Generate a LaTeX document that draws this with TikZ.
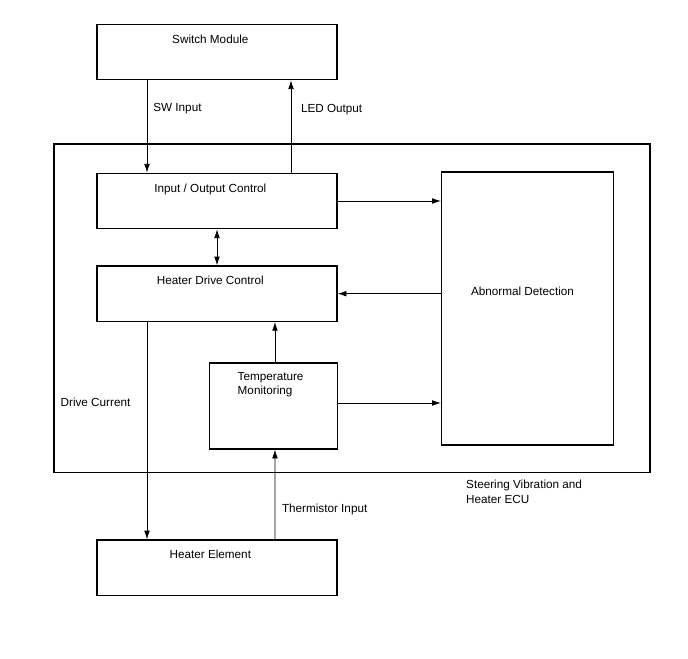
\documentclass[tikz,border=0pt]{standalone}
\usepackage{fontspec}
\setmainfont{Liberation Sans}
\usetikzlibrary{arrows.meta,positioning}

\begin{document}
\begin{tikzpicture}[
    x=0.03cm,y=-0.03cm,
    font=\fontsize{10}{12.2}\selectfont,
    block/.style={draw,line width=1.2pt,inner sep=0pt,
                  minimum width=7.2cm,minimum height=1.66cm},
    frame/.style={draw,line width=1.2pt,inner sep=0pt},
    title/.style={anchor=base,xshift=-0.2cm,yshift=-0.585cm},
    flow/.style={-{Latex[length=2.6mm,width=1.7mm]},line width=0.6pt},
    both/.style={{Latex[length=2.6mm,width=1.7mm]}-{Latex[length=2.6mm,width=1.7mm]},line width=0.6pt},
    lbl/.style={inner sep=0pt}
]
\useasboundingbox (0,0) rectangle (688,658);
% outer ECU frame
\node[frame,minimum width=17.88cm,minimum height=9.86cm] (ecu) at (352,308.4) {};
\node[lbl,anchor=base west,align=left] (ecutxt) at (466,503) {Steering Vibration and\\Heater ECU};
% blocks
\node[block,label={[title]north:Switch Module}] (sw) at (217,52) {};
\node[block,label={[title]north:Input / Output Control}] (io) at (217,201) {};
\node[block,label={[title]north:Heater Drive Control}] (hd) at (217,293.7) {};
\node[block,label={[title]north:Heater Element}] (he) at (217,567.7) {};
\node[frame,minimum width=5.16cm,minimum height=8.19cm,
      label={[anchor=base,xshift=-0.15cm,yshift=-3.72cm]north:Abnormal Detection}] (ad) at (527.5,308.5) {};
\node[frame,minimum width=3.84cm,minimum height=2.58cm,
      label={[anchor=base west,align=left,xshift=0.75cm,yshift=-0.96cm]north west:Temperature\\Monitoring}] (tm) at (273.3,406) {};
% connectors
\draw[flow] ([xshift=-2.1cm]sw.south) -- node[lbl,pos=0.34,anchor=base west,xshift=0.18cm]{SW Input} ([xshift=-2.1cm]io.north);
\draw[flow] ([xshift=2.22cm]io.north) -- node[lbl,pos=0.65,anchor=base west,xshift=0.29cm]{LED Output} ([xshift=2.22cm]sw.south);
\draw[flow] (io.east) -- (io.east -| ad.west);
\draw[both] (io.south) -- (hd.north);
\draw[flow] (hd.east -| ad.west) -- (hd.east);
\draw[flow] ([xshift=0.05cm]tm.north) -- ([xshift=0.05cm]tm.north |- hd.south);
\draw[flow] ([yshift=0.09cm]tm.east) -- ([yshift=0.09cm]tm.east -| ad.west);
\draw[flow] ([xshift=-2.1cm]hd.south) -- node[lbl,pos=0.39,anchor=base east,xshift=-0.49cm]{Drive Current} ([xshift=-2.1cm]he.north);
\draw[flow] ([xshift=1.74cm]he.north) -- node[lbl,pos=0.30,anchor=base west,xshift=0.2cm]{Thermistor Input} ([xshift=0.05cm]tm.south);
\end{tikzpicture}
\end{document}
